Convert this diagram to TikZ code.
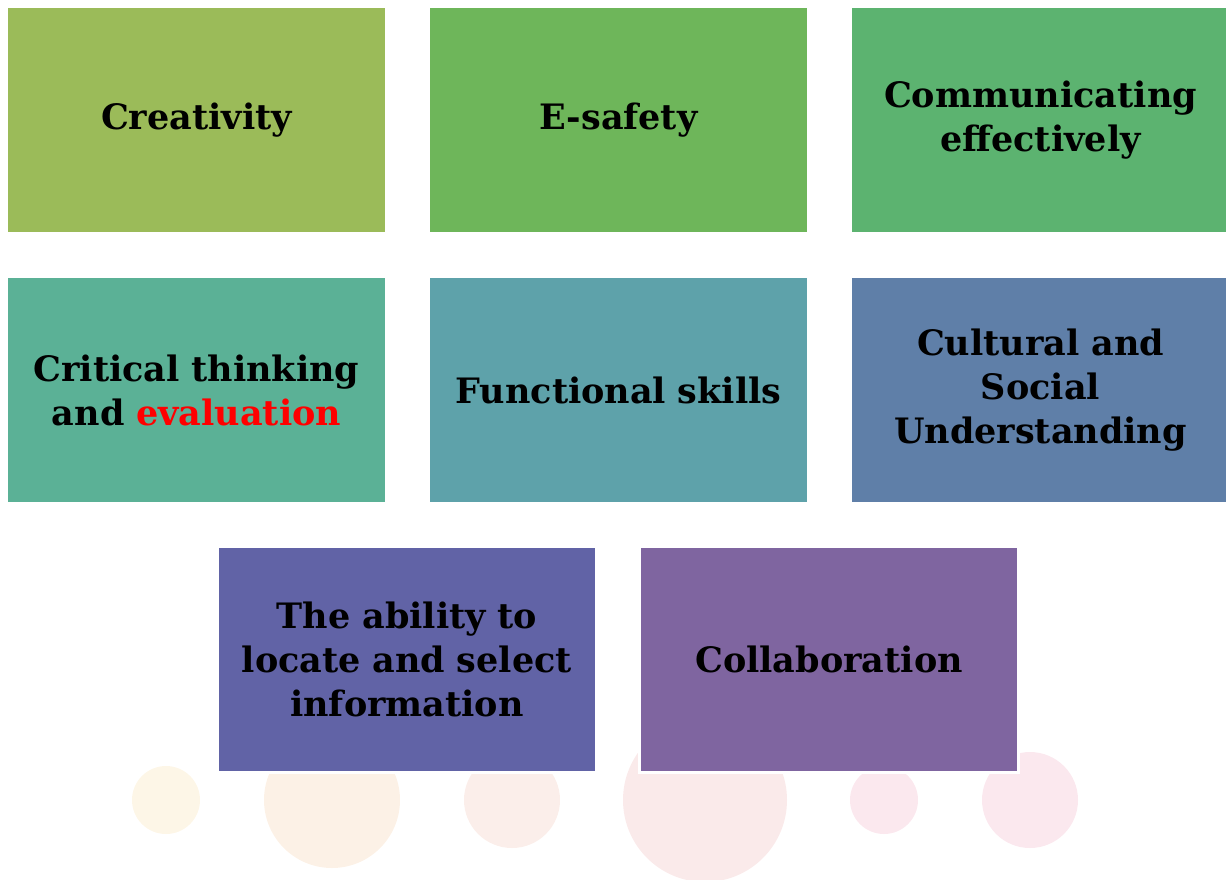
\documentclass[tikz,border=0pt]{standalone}
\usepackage{fontspec}
\setmainfont{DejaVu Serif}
\usepackage{tikz}
\usetikzlibrary{positioning}
\usepackage{xcolor}
\definecolor{SkillOlive}{HTML}{9BBB59}
\definecolor{SkillGreen}{HTML}{6EB65A}
\definecolor{SkillJade}{HTML}{5CB370}
\definecolor{SkillSea}{HTML}{5BB196}
\definecolor{SkillTeal}{HTML}{5EA2AA}
\definecolor{SkillSteel}{HTML}{5F7FA8}
\definecolor{SkillIndigo}{HTML}{6163A6}
\definecolor{SkillPlum}{HTML}{7F65A0}
\definecolor{DotCream}{HTML}{FDF6E7}
\definecolor{DotPeach}{HTML}{FCF1E6}
\definecolor{DotSalmon}{HTML}{FBEEEA}
\definecolor{DotRose}{HTML}{FAEAEA}
\definecolor{DotPink}{HTML}{FBE8EE}
\definecolor{HighlightRed}{HTML}{FF0000}

\begin{document}
\begin{tikzpicture}[x=1pt, y=-1pt,
    skillbox/.style={draw=white, line width=2.5pt, minimum width=379pt, minimum height=226pt, inner sep=0pt, text width=370pt, align=center, font=\fontsize{35}{44}\selectfont\bfseries, text=black}
  ]
    \useasboundingbox (0,0) rectangle (1226,879);

    % faint discs behind the last row
    \fill[DotCream] (166,800) circle (34);
    \fill[DotPeach] (332,800) circle (68);
    \fill[DotSalmon] (512,800) circle (48);
    \fill[DotRose] (705,800) circle (82);
    \fill[DotPink] (884,800) circle (34);
    \fill[DotPink] (1030,800) circle (48);

    \node[skillbox, fill=SkillOlive] (creat) at (196.5,120) {Creativity};
    \node[skillbox, fill=SkillGreen] (esafe) at (618.5,120) {E-safety};
    \node[skillbox, fill=SkillJade] (comm) at (1040.5,120) {Communicating\\effectively};

    \node[skillbox, fill=SkillSea] (crit) at (196.5,390) {Critical thinking\\and {\color{HighlightRed}evaluation}};
    \node[skillbox, fill=SkillTeal] (func) at (618.5,390) {Functional skills};
    \node[skillbox, fill=SkillSteel] (cult) at (1040.5,390) {Cultural and\\Social\\Understanding};

    \node[skillbox, fill=SkillIndigo] (locate) at (407,659.5) {The ability to\\locate and select\\information};
    \node[skillbox, fill=SkillPlum] (collab) at (829,659.5) {Collaboration};
  \end{tikzpicture}
\end{document}
